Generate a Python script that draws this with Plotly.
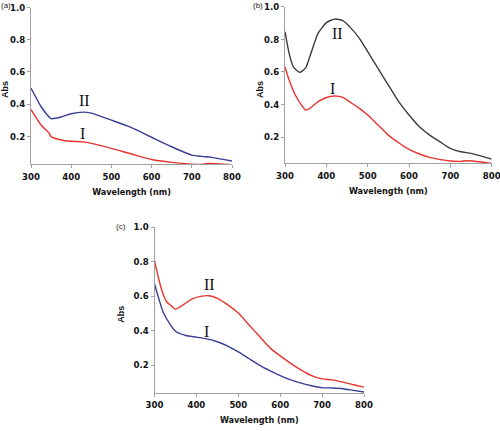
import plotly.graph_objects as go

# ---------------- data ----------------
wl_a = [300, 325, 350, 375, 400, 430, 450, 500, 550, 600, 650, 700, 725, 750, 800]
a_II = [0.50, 0.385, 0.31, 0.32, 0.34, 0.35, 0.344, 0.30, 0.254, 0.194, 0.135, 0.083, 0.075, 0.069, 0.046]
wl_a1 = [300, 325, 345, 350, 375, 400, 430, 450, 500, 550, 600, 650, 700, 725, 740, 800]
a_I = [0.365, 0.27, 0.22, 0.198, 0.177, 0.169, 0.165, 0.156, 0.125, 0.09, 0.056, 0.038, 0.027, 0.025, 0.031, 0.023]

wl_b2 = [300, 310, 320, 335, 350, 360, 380, 400, 420, 440, 460, 480, 500, 525, 550, 575, 600, 625, 650, 675, 700, 725, 750, 775, 800]
b_II = [0.847, 0.714, 0.632, 0.597, 0.625, 0.693, 0.836, 0.902, 0.924, 0.914, 0.867, 0.806, 0.724, 0.621, 0.519, 0.417, 0.335, 0.263, 0.212, 0.171, 0.13, 0.11, 0.10, 0.083, 0.065]
wl_b1 = [300, 310, 325, 340, 350, 360, 380, 400, 420, 440, 460, 480, 500, 525, 550, 575, 600, 625, 650, 700, 725, 740, 775, 800]
b_I = [0.632, 0.55, 0.458, 0.396, 0.366, 0.376, 0.417, 0.443, 0.452, 0.443, 0.41, 0.376, 0.335, 0.274, 0.212, 0.165, 0.124, 0.096, 0.075, 0.053, 0.051, 0.055, 0.047, 0.038]

wl_c2 = [300, 310, 320, 330, 340, 350, 370, 390, 410, 430, 450, 475, 500, 525, 550, 575, 600, 625, 650, 675, 700, 725, 750, 775, 800]
c_II = [0.806, 0.70, 0.615, 0.564, 0.543, 0.524, 0.552, 0.583, 0.598, 0.602, 0.587, 0.549, 0.501, 0.434, 0.368, 0.301, 0.253, 0.21, 0.171, 0.139, 0.12, 0.114, 0.101, 0.086, 0.072]
wl_c1 = [300, 310, 320, 335, 350, 375, 400, 425, 450, 475, 500, 525, 550, 575, 600, 625, 650, 675, 700, 725, 750, 775, 800]
c_I = [0.672, 0.587, 0.51, 0.444, 0.396, 0.371, 0.362, 0.352, 0.335, 0.31, 0.276, 0.238, 0.2, 0.168, 0.139, 0.114, 0.095, 0.08, 0.069, 0.067, 0.063, 0.053, 0.044]

x_ticks = [300, 400, 500, 600, 700, 800]
y_ticks = [0.2, 0.4, 0.6, 0.8, 1.0]
y_ticktext = ["0.2", "0.4", "0.6", "0.8", "1.0"]

BLUE = "#3a3d94"
RED = "#e8332f"
DARK = "#3c3c3c"
AXC = "#a0a0a0"
NARROW = "Liberation Sans Narrow, DejaVu Sans Condensed, Arial Narrow, Liberation Sans, Arial"
TICKFONT = dict(family=NARROW, size=9.5, color="#111", weight="bold")
TITLEFONT = dict(family=NARROW, size=9, color="#111", weight="bold")
SERIF = dict(family="Liberation Serif, Times New Roman, serif", size=16, color="#111")

fig = go.Figure()

def add(x, y, color, xa, ya):
    fig.add_trace(go.Scatter(x=x, y=y, mode="lines", line=dict(color=color, width=1.4, shape="spline", smoothing=0.6),
                             xaxis=xa, yaxis=ya, showlegend=False, hoverinfo="skip"))

add(wl_a, a_II, BLUE, "x", "y")
add(wl_a1, a_I, RED, "x", "y")
add(wl_b2, b_II, DARK, "x2", "y2")
add(wl_b1, b_I, RED, "x2", "y2")
add(wl_c2, c_II, RED, "x3", "y3")
add(wl_c1, c_I, BLUE, "x3", "y3")

def xax(dom, anchor):
    return dict(domain=dom, anchor=anchor, range=[300, 800], tickvals=x_ticks, showgrid=False, zeroline=False,
                showline=True, linecolor=AXC, linewidth=1, ticks="outside", ticklen=3, tickcolor=AXC,
                tickfont=TICKFONT, automargin=False, ticklabeloverflow="allow",
                title=dict(text="Wavelength (nm)", font=TITLEFONT, standoff=7))

def yax(dom, anchor, rng):
    return dict(domain=dom, anchor=anchor, range=rng, tickvals=y_ticks, ticktext=y_ticktext, showgrid=False,
                zeroline=False, showline=True, linecolor=AXC, linewidth=1, ticks="outside", ticklen=3,
                tickcolor=AXC, tickfont=TICKFONT, automargin=False, ticklabeloverflow="allow",
                ticklabelstandoff=0)

W, H = 500, 431
def px(x0, x1):
    return [x0 / W, x1 / W]
def py(top, bottom):
    return [1 - bottom / H, 1 - top / H]

fig.update_layout(
    width=W, height=H, margin=dict(l=0, r=0, t=0, b=0),
    paper_bgcolor="white", plot_bgcolor="white",
    xaxis=xax(px(31, 232), "y"), yaxis=yax(py(7.5, 164.3), "x", [0.026, 1.0]),
    xaxis2=xax(px(285, 491.7), "y2"), yaxis2=yax(py(6.7, 163.3), "x2", [0.039, 1.0]),
    xaxis3=xax(px(154.5, 364), "y3"), yaxis3=yax(py(227, 393), "x3", [0.038, 1.0]),
)

ann = []
# roman numeral labels (data coordinates)
for xr, yr, txt, x, y in [("x", "y", "II", 434, 0.425), ("x", "y", "I", 429, 0.22),
                          ("x2", "y2", "II", 426, 0.838), ("x2", "y2", "I", 416, 0.495),
                          ("x3", "y3", "II", 432, 0.664), ("x3", "y3", "I", 425, 0.393)]:
    ann.append(dict(xref=xr, yref=yr, x=x, y=y, text=txt, showarrow=False, font=SERIF))

# panel letters and Abs labels (paper coordinates)
for t, x, y in [("(a)", 6, 6), ("(b)", 258, 6), ("(c)", 121, 227)]:
    ann.append(dict(xref="paper", yref="paper", x=x / W, y=1 - y / H, text=t, showarrow=False,
                    xanchor="center", yanchor="middle",
                    font=dict(family="Liberation Sans, Arial", size=8, color="#222")))
for x, y in [(5, 90), (260, 90), (120.7, 314)]:
    ann.append(dict(xref="paper", yref="paper", x=x / W, y=1 - y / H, text="Abs", showarrow=False, textangle=-90,
                    xanchor="center", yanchor="middle",
                    font=dict(family="Liberation Sans, Arial", size=9, color="#111", weight="bold")))
fig.update_layout(annotations=ann)

fig.write_html("out.html", config={"displayModeBar": False},
               post_script="document.body.style.margin='0px';document.body.style.padding='0px';")
